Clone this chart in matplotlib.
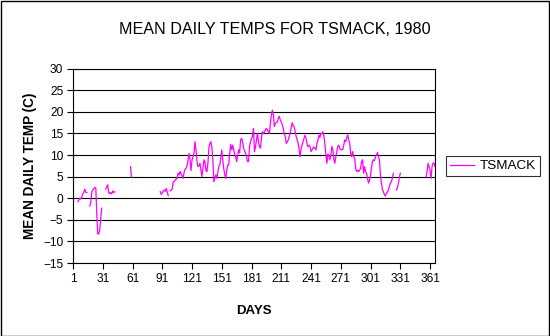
import numpy as np
import matplotlib.pyplot as plt
from matplotlib.patches import Rectangle

N = np.nan

# mean daily temperature (C), one list per month of 1980 (leap year)
jan = [N, N, N, N, N, -0.8, -0.4, 0.0, -0.2, 0.4, 1.0, 1.5, 2.1, 1.3, 1.3,
       N, N, -1.8, -0.8, 1.5, 1.9, 2.3, 2.5, 2.4, -3.9, -8.3, -8.2, -7.3, -4.5, -2.3, N]
feb = [N, N, 2.1, 2.7, 3.1, 1.3, 1.1, 1.3, 1.0, 1.7, 1.3, 1.5,
       N, N, N, N, N, N, N, N, N, N, N, N, N, N, N, 7.3, 4.9]
mar = [N] * 28 + [1.5, 0.9, 1.2]
apr = [1.7, 1.9, 1.6, 2.3, 1.5, 0.6, N, 1.7, 1.8, 2.1, 3.8, 3.9, 4.2, 4.4, 4.6,
       5.8, 5.4, 6.2, 5.6, 5.2, 4.6, 6.0, 6.7, 6.9, 7.5, 9.0, 10.4, 8.9, 6.4, 8.9]
may = [9.6, 10.4, 13.1, 11.2, 8.5, 7.3, 7.5, 8.1, 6.5, 5.0, 6.9, 8.9, 8.5, 6.5, 6.2,
       8.0, 11.6, 12.7, 13.1, 11.9, 8.9, 3.8, 4.6, 5.4, 4.6, 6.0, 7.3, 7.7, 9.3, 11.2, 8.9]
jun = [6.9, 5.5, 4.6, 6.5, 7.7, 7.7, 10.4, 12.5, 11.2, 12.3, 11.2, 10.2, 9.6, 8.5, 9.8,
       11.2, 10.5, 13.5, 13.9, 13.1, 11.6, 11.0, 10.4, 9.6, 8.5, 8.5, 12.0, 13.1, 13.9, 14.3]
jul = [16.2, 10.8, 11.9, 13.5, 15.0, 13.0, 12.0, 11.6, 13.9, 15.4, 15.0, 15.4, 15.8, 16.2, 15.8,
       15.4, 15.0, 17.3, 19.3, 20.4, 19.3, 16.6, 17.3, 17.5, 17.7, 18.5, 19.0, 18.1, 17.7, 17.0, 16.2]
aug = [15.0, 14.3, 12.7, 13.0, 13.5, 14.3, 15.0, 16.2, 17.5, 16.7, 16.6, 15.4, 14.3, 13.5, 12.7,
       11.2, 9.6, 11.6, 12.3, 13.1, 13.9, 14.6, 13.9, 12.5, 11.9, 12.3, 11.9, 10.8, 11.2, 11.6, 11.9]
sep = [11.5, 11.2, 12.7, 13.5, 14.6, 14.1, 15.0, 15.0, 15.4, 14.3, 12.5, 10.0, 8.1, 10.2, 10.0,
       8.9, 10.0, 12.0, 11.2, 8.9, 8.1, 9.6, 10.8, 12.0, 12.3, 11.5, 11.2, 11.3, 11.3, 12.3]
oct = [13.5, 13.1, 14.0, 14.7, 13.5, 12.7, 10.4, 9.6, 10.8, 9.6, 9.3, 6.9, 6.2, 6.5, 6.2,
       6.5, 6.9, 8.5, 8.9, 5.8, 7.3, 6.2, 5.8, 4.5, 3.5, 4.2, 5.4, 7.3, 8.5, 8.9, 8.7]
nov = [9.6, 10.0, 10.6, 9.6, 8.9, 5.4, 3.5, 1.9, 1.5, 0.8, 0.5, 1.1, 1.5, 1.9, 2.7,
       3.5, 3.8, 4.6, 5.8, N, N, 1.9, 2.3, 3.5, 4.6, 5.8, N, N, N, N]
dec = [N] * 21 + [5.0, 6.2, 8.1, 7.3, 6.5, 4.6, 7.3, 8.1, 8.2, 7.3]

temps = np.array(jan + feb + mar + apr + may + jun + jul + aug + sep + oct + nov + dec, dtype=float)
days = np.arange(1, len(temps) + 1)
x_ticks = list(range(1, 362, 30))
y_ticks = list(range(-15, 31, 5))

plt.rcParams['font.family'] = ['Liberation Sans', 'DejaVu Sans']

W, H = 550, 336
fig = plt.figure(figsize=(W / 100, H / 100), dpi=100)
fig.patches.append(Rectangle((0.5 / W, 0.5 / H), 1 - 1.5 / W, 1 - 1.5 / H, transform=fig.transFigure,
                             fill=False, edgecolor='black', linewidth=1.0))

ax = fig.add_axes([73 / W, 1 - 263 / H, (435 - 73) / W, (263 - 68.7) / H])
ax.plot(days, temps, color='#ff00ff', lw=0.9, label='TSMACK')
ax.set_xlim(1, 366)
ax.set_ylim(-15, 30)
ax.set_xticks(x_ticks)
ax.set_yticks(y_ticks)
ax.grid(axis='y', color='black', lw=0.8)
ax.set_axisbelow(True)
for s in ax.spines.values():
    s.set_linewidth(0.8)
    s.set_color('black')
ax.tick_params(direction='out', length=4, width=0.8, labelsize=8.6, colors='black', pad=3)

fig.text(274.5 / W, 1 - 29 / H, 'MEAN DAILY TEMPS FOR TSMACK, 1980', ha='center', va='center', fontsize=11.6)
fig.text(254 / W, 1 - 311 / H, 'DAYS', ha='center', va='center', fontsize=9.5, fontweight='bold')
fig.text(30 / W, 1 - 166 / H, 'MEAN DAILY TEMP (C)', ha='center', va='center', rotation=90,
         fontsize=9.8, fontweight='bold')

leg = fig.legend(loc='center left', bbox_to_anchor=(446 / W, 1 - 166 / H), fontsize=9.7,
                 frameon=True, fancybox=False, shadow=False, handlelength=1.8, handletextpad=0.4,
                 borderpad=0.3, borderaxespad=0)
leg.get_frame().set_edgecolor('black')
leg.get_frame().set_linewidth(0.8)

fig.savefig('out.png', dpi=100)
